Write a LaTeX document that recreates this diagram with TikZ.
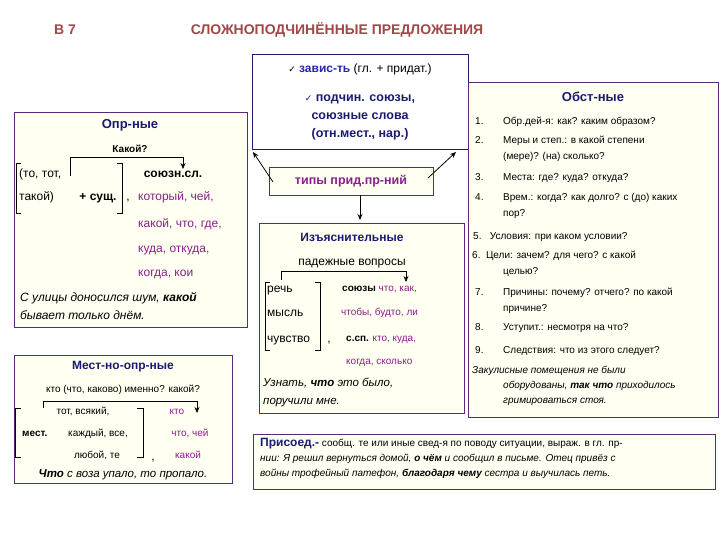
\documentclass[tikz,border=0pt]{standalone}
\usepackage{fontspec}
\setmainfont{Liberation Sans}
\newfontfamily\djv{DejaVu Sans}
\usetikzlibrary{arrows.meta}
\definecolor{ttl}{HTML}{A04848}
\definecolor{navy}{HTML}{1A1A70}
\definecolor{blu}{HTML}{2626A8}
\definecolor{purp}{HTML}{8A1F8A}
\definecolor{bord}{HTML}{5A2A78}
\definecolor{cream}{HTML}{FFFFF2}
\tikzset{
 box/.style={draw=bord,line width=0.8pt,fill=cream},
 tx/.style={inner sep=0pt,anchor=west,text height=7pt,text depth=2pt,font=\fontsize{10}{12}\selectfont},
 tb/.style={inner sep=0pt,anchor=west,text height=8.5pt,text depth=2.5pt,font=\fontsize{12}{14}\selectfont},
 tc/.style={inner sep=0pt,text height=8.5pt,text depth=2.5pt,font=\fontsize{12}{14}\selectfont},
 hd/.style={inner sep=0pt,font=\fontsize{13}{15}\selectfont\bfseries,text=navy},
 pw/.style={text=purp},
 arr/.style={-{Stealth[length=6pt,width=5pt]},line width=0.8pt},
 brk/.style={line width=0.6pt},
}
\begin{document}
\begin{tikzpicture}[x=1pt,y=-1pt]
\useasboundingbox (0,0) rectangle (720,540);
\fill[white] (0,0) rectangle (720,540);
% title
\node[inner sep=0pt,font=\fontsize{14}{16}\selectfont\bfseries,text=ttl] (b7) at (65,30) {В 7};
\node[inner sep=0pt,font=\fontsize{14}{16}\selectfont\bfseries,text=ttl] (title) at (337,30) {СЛОЖНОПОДЧИНЁННЫЕ ПРЕДЛОЖЕНИЯ};
% top box
\draw[line width=0.8pt,draw=navy,fill=white] (252,54) rectangle (468,149);
\node[tc] (zav) at (360,70) {{\djv\small✓} \textbf{\textcolor{blu}{завис-ть}} (гл. + придат.)};
\node[inner sep=0pt,font=\fontsize{12.5}{15}\selectfont\bfseries,text=navy,align=center] (pod) at (360,117)
 {{\djv\small✓} подчин. союзы,\\[3pt]союзные слова\\[3pt](отн.мест., нар.)};
\coordinate (tbl) at (253,152);
\coordinate (tbr) at (456,152);
% типы
\node[box,minimum width=164pt,minimum height=28pt,font=\fontsize{12.5}{15}\selectfont\bfseries,text=purp,inner sep=0pt] (tipy) at (351,181) {типы прид.пр-ний};
\draw[arr] (273,182) -- (tbl);
\draw[arr] (428,178) -- (tbr);
% Обст box
\draw[box] (468,82) rectangle (718,417);
\node[hd] (obst) at (593,97) {Обст-ные};
\foreach \n/\y/\t in {1./122/{Обр.дей-я: как? каким образом?},2./141/{Меры и степ.: в какой степени},3./178/{Места: где? куда? откуда?},4./198/{Врем.: когда? как долго? с (до) каких},7./293/{Причины: почему? отчего? по какой},8./328/{Уступит.: несмотря на что?},9./351/{Следствия: что из этого следует?}}{
 \node[tx] at (475,\y) {\n}; \node[tx] at (503,\y) {\t};}
\node[tx] (o2) at (503,157) {(мере)? (на) сколько?};
\node[tx] (o4) at (503,214) {пор?};
\node[tx] (o5) at (473,237) {5.\ \ \ Условия: при каком условии?};
\node[tx] (o6) at (472,256) {6.\ \ Цели: зачем? для чего? с какой};
\node[tx] (o6b) at (503,272) {целью?};
\node[tx] (o7) at (503,309) {причине?};
\node[tx,font=\fontsize{10}{12}\selectfont\itshape] (oi1) at (472,371) {Закулисные помещения не были};
\node[tx,font=\fontsize{10}{12}\selectfont\itshape] (oi2) at (503,386) {оборудованы, \textbf{так что} приходилось};
\node[tx,font=\fontsize{10}{12}\selectfont\itshape] (oi3) at (503,401) {гримироваться стоя.};
% Изъясн
\draw[arr] (tipy.south -| 360,0) -- (360,220);
\draw[box] (259,223) rectangle (464,413);
\node[hd,font=\fontsize{12}{14}\selectfont\bfseries] (izj) at (352,237) {Изъяснительные};
\node[tc] (pad) at (352,262) {падежные вопросы};
\draw[brk] (281,280) -- (281,271) -- (406,271);
\draw[arr,line width=0.6pt] (406,271) -- (406,282);
\draw[brk] (270,282) -- (265,282) -- (265,350) -- (270,350);
\draw[brk] (315,282) -- (320,282) -- (320,350) -- (315,350);
\node[tb] (rech) at (267,289) {речь};
\node[tb] (mysl) at (267,313) {мысль};
\node[tb] (chuv) at (267,339) {чувство};
\node[tc] (cm1) at (329,339) {,};
\node[tx] (s1) at (342,289) {\textbf{союзы} \textcolor{purp}{что, как,}};
\node[tx,pw] (s2) at (341,313) {чтобы, будто, ли};
\node[tx] (s3) at (346,339) {\textbf{с.сп.} \textcolor{purp}{кто, куда,}};
\node[tx,pw] (s4) at (346,362) {когда, сколько};
\node[tb,font=\fontsize{11.5}{14}\selectfont\itshape] (ui1) at (263,383) {Узнать, \textbf{что} это было,};
\node[tb,font=\fontsize{11.5}{14}\selectfont\itshape] (ui2) at (263,401) {поручили мне.};
% Опр
\draw[box] (14,112) rectangle (247,327);
\node[hd] (opr) at (130,125) {Опр-ные};
\node[inner sep=0pt,font=\fontsize{10}{12}\selectfont\bfseries] (kak) at (130,149) {Какой?};
\draw[brk] (70,176) -- (70,157) -- (183,157);
\draw[arr,line width=0.6pt] (183,157) -- (183,169);
\draw[brk] (21,163) -- (16,163) -- (16,213) -- (21,213);
\draw[brk] (117,163) -- (122,163) -- (122,213) -- (117,213);
\node[tb] (to) at (19,175) {(то, тот,};
\node[tb] (tak) at (19,198) {такой)};
\node[tc,font=\fontsize{12}{14}\selectfont\bfseries] (sush) at (98,198) {+ сущ.};
\node[tc] (cm2) at (128,198) {,};
\node[tc,font=\fontsize{12}{14}\selectfont\bfseries] (sojuz) at (173,175) {союзн.сл.};
\node[tb,pw] (k1) at (138,198) {который, чей,};
\node[tb,pw] (k2) at (138,225) {какой, что, где,};
\node[tb,pw] (k3) at (138,249) {куда, откуда,};
\node[tb,pw] (k4) at (138,273) {когда, кои};
\node[tb,font=\fontsize{12}{14}\selectfont\itshape] (oi) at (20,298) {С улицы доносился шум, \textbf{какой}};
\node[tb,font=\fontsize{12}{14}\selectfont\itshape] (oib) at (20,316) {бывает только днём.};
% Мест
\draw[box] (14,355) rectangle (232,483);
\node[hd,font=\fontsize{12}{14}\selectfont\bfseries] (mest) at (123,367) {Мест-но-опр-ные};
\node[tx,anchor=center] (kto) at (123,390) {кто (что, каково) именно? какой?};
\draw[brk] (43,408) -- (43,401) -- (197,401);
\draw[arr,line width=0.6pt] (197,401) -- (197,413);
\draw[brk] (21,408) -- (15,408) -- (15,457) -- (21,457);
\draw[brk] (137,408) -- (143,408) -- (143,457) -- (137,457);
\node[tx,anchor=center] (m1) at (83,412) {тот, всякий,};
\node[tx,font=\fontsize{10}{12}\selectfont\bfseries] (m2a) at (22,434) {мест.};
\node[tx,anchor=center] (m2) at (98,434) {каждый, все,};
\node[tx,anchor=center] (m3) at (97,456) {любой, те};
\node[tc] (cm3) at (153,457) {,};
\node[tx,pw,anchor=center] (r1) at (177,412) {кто};
\node[tx,pw,anchor=center] (r2) at (190,434) {что, чей};
\node[tx,pw,anchor=center] (r3) at (188,456) {какой};
\node[tb,anchor=center,font=\fontsize{11.5}{14}\selectfont\itshape] (chto) at (123,474) {\textbf{Что} с воза упало, то пропало.};
% Присоед
\draw[box] (253,434) rectangle (715,489);
\node[tx] (p1) at (260,444) {\textcolor{navy}{\fontsize{12}{14}\selectfont\bfseries Присоед.-} сообщ. те или иные свед-я по поводу ситуации, выраж. в гл. пр-};
\node[tx,font=\fontsize{10}{12}\selectfont\itshape] (p2) at (260,459) {нии: Я решил вернуться домой, \textbf{о чём} и сообщил в письме. Отец привёз с};
\node[tx,font=\fontsize{10}{12}\selectfont\itshape] (p3) at (260,474) {войны трофейный патефон, \textbf{благодаря чему} сестра и выучилась петь.};
\end{tikzpicture}
\end{document}
